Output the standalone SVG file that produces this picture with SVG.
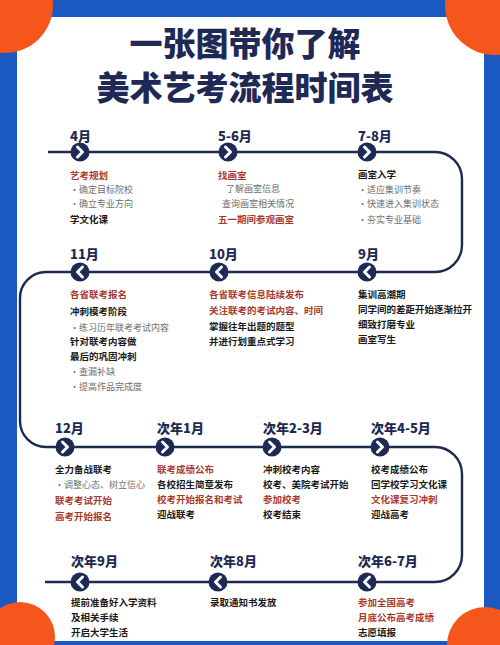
<svg xmlns="http://www.w3.org/2000/svg" xmlns:xlink="http://www.w3.org/1999/xlink" width="500" height="645" viewBox="0 0 500 645">
<style>
text{font-family:"Noto Sans CJK SC","Noto Sans",sans-serif}
.title{font-size:33px;font-weight:900;fill:#1e2a55;text-anchor:middle}
.lbl{font-size:13px;font-weight:800;fill:#1e2a52}
.r{font-size:9.5px;font-weight:700;fill:#a83a2d}
.b{font-size:9.5px;font-weight:700;fill:#1a1a1a}
.g{font-size:9px;font-weight:400;fill:#6e6e6e}
.line{fill:none;stroke:#1e2a50;stroke-width:2.4}
</style>
<defs>
<g id="cr"><circle r="9.5" fill="#1e2a55"/><polyline points="-2.5,-5 2.5,0 -2.5,5" fill="none" stroke="#fff" stroke-width="3" stroke-linecap="round" stroke-linejoin="round"/></g>
<g id="cl"><circle r="9.5" fill="#1e2a55"/><polyline points="2.5,-5 -2.5,0 2.5,5" fill="none" stroke="#fff" stroke-width="3" stroke-linecap="round" stroke-linejoin="round"/></g>
</defs>
<rect width="500" height="645" fill="#1b58c2"/>
<rect x="17" y="17" width="467" height="624" fill="#fff"/>
<g id="corners" fill="#f5561b">
<circle cx="5" cy="5" r="48"/>
<circle cx="495" cy="5" r="50"/>
<circle cx="20" cy="637" r="35"/>
<circle cx="485" cy="645" r="38"/>
</g>
<g id="title">
<text class="title" x="245" y="56">一张图带你了解</text>
<text class="title" x="245" y="100">美术艺考流程时间表</text>
</g>
<g id="connectors">
<path class="line" d="M48 152 H435 A27 27 0 0 1 462 179 V245 A27 27 0 0 1 435 272 H46 A26 26 0 0 0 20 298 V421 A26 26 0 0 0 46 447 H435 A27 27 0 0 1 462 474 V555 A27 27 0 0 1 435 582 H45"/>
</g>
<g id="n1">
<use xlink:href="#cr" x="80" y="152"/>
<text class="lbl" x="70" y="141">4月</text>
<text class="r" x="70" y="179">艺考规划</text>
<text class="g" x="70" y="193">•确定目标院校</text>
<text class="g" x="70" y="207">•确立专业方向</text>
<text class="b" x="70" y="223">学文化课</text>
</g>
<g id="n2">
<use xlink:href="#cr" x="228" y="152"/>
<text class="lbl" x="218" y="141">5-6月</text>
<text class="r" x="218" y="179">找画室</text>
<text class="g" x="226" y="192">了解画室信息</text>
<text class="g" x="222" y="207">查询画室相关情况</text>
<text class="r" x="218" y="223">五一期间参观画室</text>
</g>
<g id="n3">
<use xlink:href="#cr" x="367" y="152"/>
<text class="lbl" x="358" y="141">7-8月</text>
<text class="b" x="358" y="178">画室入学</text>
<text class="g" x="358" y="193">•适应集训节奏</text>
<text class="g" x="358" y="207">•快速进入集训状态</text>
<text class="g" x="358" y="223">•夯实专业基础</text>
</g>
<g id="n4">
<use xlink:href="#cl" x="80" y="272"/>
<text class="lbl" x="70" y="259">11月</text>
<text class="r" x="70" y="298">各省联考报名</text>
<text class="b" x="70" y="315">冲刺模考阶段</text>
<text class="g" x="70" y="331">•练习历年联考考试内容</text>
<text class="b" x="70" y="345">针对联考内容做</text>
<text class="b" x="70" y="360">最后的巩固冲刺</text>
<text class="g" x="70" y="375">•查漏补缺</text>
<text class="g" x="70" y="390">•提高作品完成度</text>
</g>
<g id="n5">
<use xlink:href="#cl" x="219" y="272"/>
<text class="lbl" x="209" y="259">10月</text>
<text class="r" x="209" y="298">各省联考信息陆续发布</text>
<text class="r" x="209" y="314">关注联考的考试内容、时间</text>
<text class="b" x="209" y="330">掌握往年出题的题型</text>
<text class="b" x="209" y="345">并进行划重点式学习</text>
</g>
<g id="n6">
<use xlink:href="#cl" x="367" y="272"/>
<text class="lbl" x="358" y="259">9月</text>
<text class="b" x="358" y="298">集训高潮期</text>
<text class="b" x="358" y="313">同学间的差距开始逐渐拉开</text>
<text class="b" x="358" y="328">细致打磨专业</text>
<text class="b" x="358" y="343">画室写生</text>
</g>
<g id="n7">
<use xlink:href="#cr" x="65" y="447"/>
<text class="lbl" x="55" y="433">12月</text>
<text class="b" x="55" y="473">全力备战联考</text>
<text class="g" x="55" y="488">•调整心态、树立信心</text>
<text class="r" x="55" y="504">联考考试开始</text>
<text class="r" x="55" y="520">高考开始报名</text>
</g>
<g id="n8">
<use xlink:href="#cr" x="165" y="447"/>
<text class="lbl" x="157" y="433">次年1月</text>
<text class="r" x="157" y="473">联考成绩公布</text>
<text class="b" x="157" y="488">各校招生简章发布</text>
<text class="r" x="157" y="503">校考开始报名和考试</text>
<text class="b" x="157" y="518">迎战联考</text>
</g>
<g id="n9">
<use xlink:href="#cr" x="272" y="447"/>
<text class="lbl" x="263" y="433">次年2-3月</text>
<text class="b" x="263" y="473">冲刺校考内容</text>
<text class="b" x="263" y="488">校考、美院考试开始</text>
<text class="r" x="263" y="503">参加校考</text>
<text class="b" x="263" y="518">校考结束</text>
</g>
<g id="n10">
<use xlink:href="#cr" x="380" y="447"/>
<text class="lbl" x="371" y="433">次年4-5月</text>
<text class="b" x="371" y="473">校考成绩公布</text>
<text class="b" x="371" y="488">回学校学习文化课</text>
<text class="r" x="371" y="503">文化课复习冲刺</text>
<text class="b" x="371" y="518">迎战高考</text>
</g>
<g id="n11">
<use xlink:href="#cl" x="80" y="582"/>
<text class="lbl" x="71" y="566">次年9月</text>
<text class="b" x="71" y="606">提前准备好入学资料</text>
<text class="b" x="71" y="621">及相关手续</text>
<text class="b" x="71" y="636">开启大学生活</text>
</g>
<g id="n12">
<use xlink:href="#cl" x="218" y="582"/>
<text class="lbl" x="210" y="566">次年8月</text>
<text class="b" x="210" y="606">录取通知书发放</text>
</g>
<g id="n13">
<use xlink:href="#cl" x="367" y="582"/>
<text class="lbl" x="358" y="566">次年6-7月</text>
<text class="r" x="358" y="606">参加全国高考</text>
<text class="r" x="358" y="621">月底公布高考成绩</text>
<text class="b" x="358" y="636">志愿填报</text>
</g>
</svg>
